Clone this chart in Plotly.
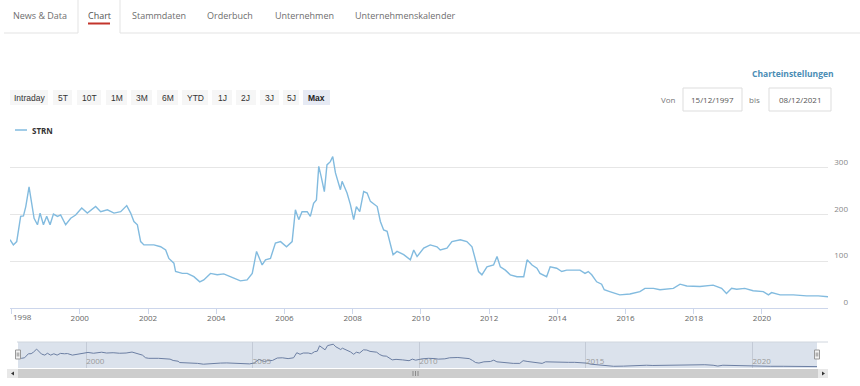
import plotly.graph_objects as go

# ---------------- data ----------------
dates = [
    "1997-12-15", "1998-01-20", "1998-02-25", "1998-04-08", "1998-05-08", "1998-06-02", "1998-07-07",
    "1998-08-12", "1998-08-30", "1998-10-05", "1998-11-02", "1998-12-08", "1999-01-12", "1999-02-17",
    "1999-03-25", "1999-05-08", "1999-06-10", "1999-08-03", "1999-09-26", "1999-11-18", "2000-01-22",
    "2000-03-22", "2000-06-19", "2000-08-12", "2000-10-23", "2001-01-02", "2001-03-14", "2001-05-18",
    "2001-06-29", "2001-08-03", "2001-09-09", "2001-10-14", "2001-11-18", "2002-03-05", "2002-05-16",
    "2002-07-09", "2002-08-12", "2002-10-05", "2002-10-23", "2003-01-03", "2003-02-25", "2003-05-07",
    "2003-07-09", "2003-08-21", "2003-11-01", "2004-01-12", "2004-03-22", "2004-07-08", "2004-09-16",
    "2004-11-27", "2005-01-21", "2005-03-08", "2005-05-07", "2005-06-12", "2005-08-04", "2005-09-26",
    "2005-11-20", "2006-01-23", "2006-03-24", "2006-04-28", "2006-06-03", "2006-07-08", "2006-09-01",
    "2006-10-05", "2006-11-09", "2006-12-09", "2007-01-03", "2007-01-29", "2007-03-04", "2007-04-01",
    "2007-05-07", "2007-06-02", "2007-07-01", "2007-08-23", "2007-09-10", "2007-11-02", "2007-12-08",
    "2008-01-12", "2008-02-10", "2008-03-17", "2008-04-28", "2008-06-04", "2008-07-09", "2008-09-20",
    "2008-10-24", "2008-11-28", "2009-01-04", "2009-03-09", "2009-04-20", "2009-07-01", "2009-09-10",
    "2009-10-16", "2009-11-21", "2010-01-31", "2010-04-11", "2010-06-22", "2010-07-27", "2010-10-07",
    "2010-11-29", "2011-02-27", "2011-05-08", "2011-07-02", "2011-08-07", "2011-09-10", "2011-10-16",
    "2011-12-09", "2012-02-18", "2012-03-26", "2012-04-30", "2012-06-23", "2012-08-15", "2012-10-26",
    "2013-01-06", "2013-02-11", "2013-04-05", "2013-05-27", "2013-06-29", "2013-09-08", "2013-10-16",
    "2013-12-25", "2014-02-17", "2014-04-11", "2014-06-22", "2014-08-31", "2014-10-24", "2014-11-28",
    "2015-01-04", "2015-02-26", "2015-04-20", "2015-05-18", "2015-07-16", "2015-10-31", "2016-02-17",
    "2016-06-03", "2016-07-27", "2016-10-26", "2017-01-04", "2017-05-27", "2017-08-07", "2017-10-18",
    "2018-03-08", "2018-07-27", "2018-10-26", "2018-12-17", "2019-02-10", "2019-04-05", "2019-07-01",
    "2019-09-28", "2020-01-15", "2020-03-10", "2020-04-13", "2020-07-13", "2020-12-02", "2021-04-23",
    "2021-08-26", "2021-11-24", "2021-12-08",
]
strn = [
    146, 135, 142, 196, 197, 217, 259,
    217, 192, 178, 203, 178, 196, 178,
    201, 196, 199, 178, 192, 199, 214,
    203, 217, 206, 210, 203, 206, 219,
    203, 185, 178, 142, 135, 135, 131,
    124, 106, 96, 78, 74, 74, 67,
    56, 60, 74, 71, 73, 64, 58,
    60, 74, 121, 92, 103, 106, 139,
    142, 131, 142, 210, 189, 206, 206,
    196, 224, 231, 303, 281, 249, 306,
    313, 324, 289, 253, 271, 246, 221,
    189, 217, 206, 249, 246, 228, 217,
    185, 167, 164, 114, 121, 114, 103,
    124, 110, 128, 135, 131, 124, 128,
    142, 146, 142, 131, 106, 78, 71,
    88, 92, 110, 88, 81, 71, 67,
    67, 103, 92, 85, 74, 67, 88,
    85, 78, 81, 81, 81, 74, 78,
    71, 56, 51, 39, 35, 28, 30,
    35, 42, 42, 39, 42, 51, 47,
    46, 49, 42, 31, 42, 40, 42,
    37, 35, 28, 33, 28, 28, 26,
    26, 24, 24,
]
series_name = "STRN"
y_tick_vals = [0, 100, 200, 300, 400]
y_tick_text = ["0", "100", "200", "300", ""]
main_x_ticks = ["1998", "2000", "2002", "2004", "2006", "2008", "2010",
                "2012", "2014", "2016", "2018", "2020"]
nav_x_ticks = ["2000", "2005", "2010", "2015", "2020"]
tab_labels = ["News & Data", "Chart", "Stammdaten", "Orderbuch", "Unternehmen", "Unternehmenskalender"]
range_buttons = ["Intraday", "5T", "10T", "1M", "3M", "6M", "YTD", "1J", "2J", "3J", "5J", "Max"]
date_from = "15/12/1997"
date_to = "08/12/2021"

# ---------------- layout helpers (page pixels -> paper) ----------------
W, H = 860, 386
def fx(p):
    return p / W
def fy(p):
    return 1 - p / H

FONT = "Open Sans, Noto Sans, sans-serif"
BTN_FONT = "Liberation Sans, Arial, sans-serif"

fig = go.Figure()
fig.add_trace(go.Scatter(x=dates, y=strn, mode="lines", name=series_name,
                         line=dict(color="#82bbdf", width=1.4),
                         xaxis="x", yaxis="y", showlegend=False, hoverinfo="x+y"))
fig.add_trace(go.Scatter(x=dates, y=strn, mode="lines", name=series_name + " nav",
                         line=dict(color="#6c7fa3", width=1),
                         xaxis="x2", yaxis="y2", showlegend=False, hoverinfo="skip"))

shapes = []
annotations = []

def rect(x0, y0, x1, y1, fill, line_color=None, lw=0, layer="below"):
    shapes.append(dict(type="rect", xref="paper", yref="paper",
                       x0=fx(x0), x1=fx(x1), y0=fy(y1), y1=fy(y0),
                       fillcolor=fill, line=dict(color=line_color or fill, width=lw),
                       layer=layer))

def hline(x0, x1, y, color, lw=1, layer="below"):
    shapes.append(dict(type="line", xref="paper", yref="paper",
                       x0=fx(x0), x1=fx(x1), y0=fy(y), y1=fy(y),
                       line=dict(color=color, width=lw), layer=layer))

def vline(x, y0, y1, color, lw=1, layer="below"):
    shapes.append(dict(type="line", xref="paper", yref="paper",
                       x0=fx(x), x1=fx(x), y0=fy(y0), y1=fy(y1),
                       line=dict(color=color, width=lw), layer=layer))

def text(x, y, s, size=10, color="#666", family=FONT, xanchor="center", bold=False):
    if bold:
        s = "<b>" + s + "</b>"
    annotations.append(dict(x=fx(x), y=fy(y), xref="paper", yref="paper", text=s,
                            showarrow=False, xanchor=xanchor, yanchor="middle",
                            font=dict(size=size, color=color, family=family)))

# ----- tab bar -----
tab_cx = [40, 99, 159, 230, 304, 405]
for lbl, cx in zip(tab_labels, tab_cx):
    text(cx, 15, lbl, size=9, color="#6e6e6e" if lbl != "Chart" else "#555")
hline(4, 78, 33, "#e3e3e3")
hline(120, 860, 33, "#e3e3e3")
vline(78, 0, 33, "#e3e3e3")
vline(120, 0, 33, "#e3e3e3")
rect(88, 22.5, 110, 24.5, "#c3342b")

# ----- range buttons -----
btn_x = [(10, 48), (53, 72), (77, 101), (106, 127), (131, 152), (157, 178),
         (182, 208), (212, 232), (236, 256), (260, 279), (283, 299), (303, 330)]
for lbl, (a, b) in zip(range_buttons, btn_x):
    active = lbl == "Max"
    rect(a, 90, b, 105, "#e6eaf4" if active else "#f6f6f6")
    text((a + b) / 2, 97.5, lbl, size=8.5, color="#222" if active else "#333",
         family=BTN_FONT, bold=active)

# ----- settings / date inputs -----
text(793, 73, "Charteinstellungen", size=8.5, color="#4a8db5", bold=True)
text(668, 99, "Von", size=8, color="#777")
rect(683, 88, 742, 111, "#ffffff", "#dddddd", 1)
text(712.5, 99.5, date_from, size=8, color="#555")
text(754, 99, "bis", size=8, color="#777")
rect(769, 88, 831, 111, "#ffffff", "#dddddd", 1)
text(800, 99.5, date_to, size=8, color="#555")

# ----- legend -----
hline(15, 27, 130, "#82bbdf", lw=1.5)
text(30, 130, series_name, size=8, color="#333", xanchor="left", bold=True)

# ----- navigator -----
rect(18, 342, 817, 368, "#dbe2ec")
hline(17, 828, 342, "#d0d6de")
# scrollbar
rect(7, 369, 828, 378, "#f0f0f0")
rect(18, 369, 818, 378, "#cdcdcd")
rect(7, 369, 18, 378, "#e8e8e8")
rect(818, 369, 828, 378, "#e8e8e8")
shapes.append(dict(type="path", xref="paper", yref="paper",
                   path=f"M {fx(14)} {fy(371.5)} L {fx(11)} {fy(373.5)} L {fx(14)} {fy(375.5)} Z",
                   fillcolor="#333", line=dict(width=0), layer="above"))
shapes.append(dict(type="path", xref="paper", yref="paper",
                   path=f"M {fx(822)} {fy(371.5)} L {fx(825)} {fy(373.5)} L {fx(822)} {fy(375.5)} Z",
                   fillcolor="#333", line=dict(width=0), layer="above"))
for gx in (413, 415.5, 418):
    vline(gx, 371, 376, "#8a8a8a", layer="above")
# handles
for hx in (18, 817):
    rect(hx - 2.5, 350, hx + 2.5, 359, "#f2f2f2", "#999999", 1, layer="above")
    vline(hx - 0.8, 352.5, 356.5, "#999999", layer="above")
    vline(hx + 0.8, 352.5, 356.5, "#999999", layer="above")

# first year label is left-aligned at its tick (as in the reference); others centred
main_x_text = ["" if i == 0 else t for i, t in enumerate(main_x_ticks)]
annotations.append(dict(x=main_x_ticks[0] + "-01-01", xref="x", y=fy(316.5), yref="paper",
                        text=main_x_ticks[0], showarrow=False, xanchor="left", yanchor="middle",
                        xshift=-1, font=dict(size=8, color="#666", family=FONT)))

fig.update_layout(
    width=W, height=H,
    margin=dict(l=0, r=0, t=0, b=0, autoexpand=False),
    paper_bgcolor="#ffffff",
    plot_bgcolor="rgba(0,0,0,0)",
    font=dict(family=FONT, size=8, color="#666"),
    showlegend=False,
    shapes=shapes,
    annotations=annotations,
    xaxis=dict(
        domain=[fx(10), fx(828)], anchor="y", automargin=False,
        range=["1997-12-15", "2021-12-08"],
        tickvals=[y + "-01-01" for y in main_x_ticks], ticktext=main_x_text,
        showgrid=False, zeroline=False,
        showline=True, linecolor="#ccd6eb", linewidth=1,
        ticks="outside", ticklen=5, tickcolor="#ccd6eb",
        ticklabelstandoff=-3,
        tickfont=dict(size=8, color="#666", family=FONT),
    ),
    yaxis=dict(
        domain=[fy(308), fy(121)], anchor="free", position=fx(848), side="left",
        automargin=False,
        range=[0, 400],
        tickvals=y_tick_vals, ticktext=y_tick_text,
        showgrid=True, gridcolor="#e6e6e6", gridwidth=1,
        zeroline=False, showline=False, ticks="",
        ticklabelposition="outside top",
        tickfont=dict(size=8, color="#888", family=FONT),
    ),
    xaxis2=dict(
        domain=[fx(18), fx(817)], anchor="y2", automargin=False,
        range=["1997-12-15", "2021-12-08"],
        tickvals=[y + "-01-01" for y in nav_x_ticks], ticktext=nav_x_ticks,
        ticklabelposition="inside right", ticklabelstandoff=-4,
        showgrid=True, gridcolor="#c3cad6", gridwidth=1,
        zeroline=False, showline=False, ticks="",
        tickfont=dict(size=8, color="#9a9a9a", family=FONT),
    ),
    yaxis2=dict(
        domain=[fy(368), fy(342)], anchor="x2", automargin=False,
        range=[5, 354], visible=False, showgrid=False, zeroline=False,
    ),
)

fig.write_html(
    "out.html",
    config={"displayModeBar": False},
    post_script="document.body.style.margin='0';document.body.style.overflow='hidden';",
)
